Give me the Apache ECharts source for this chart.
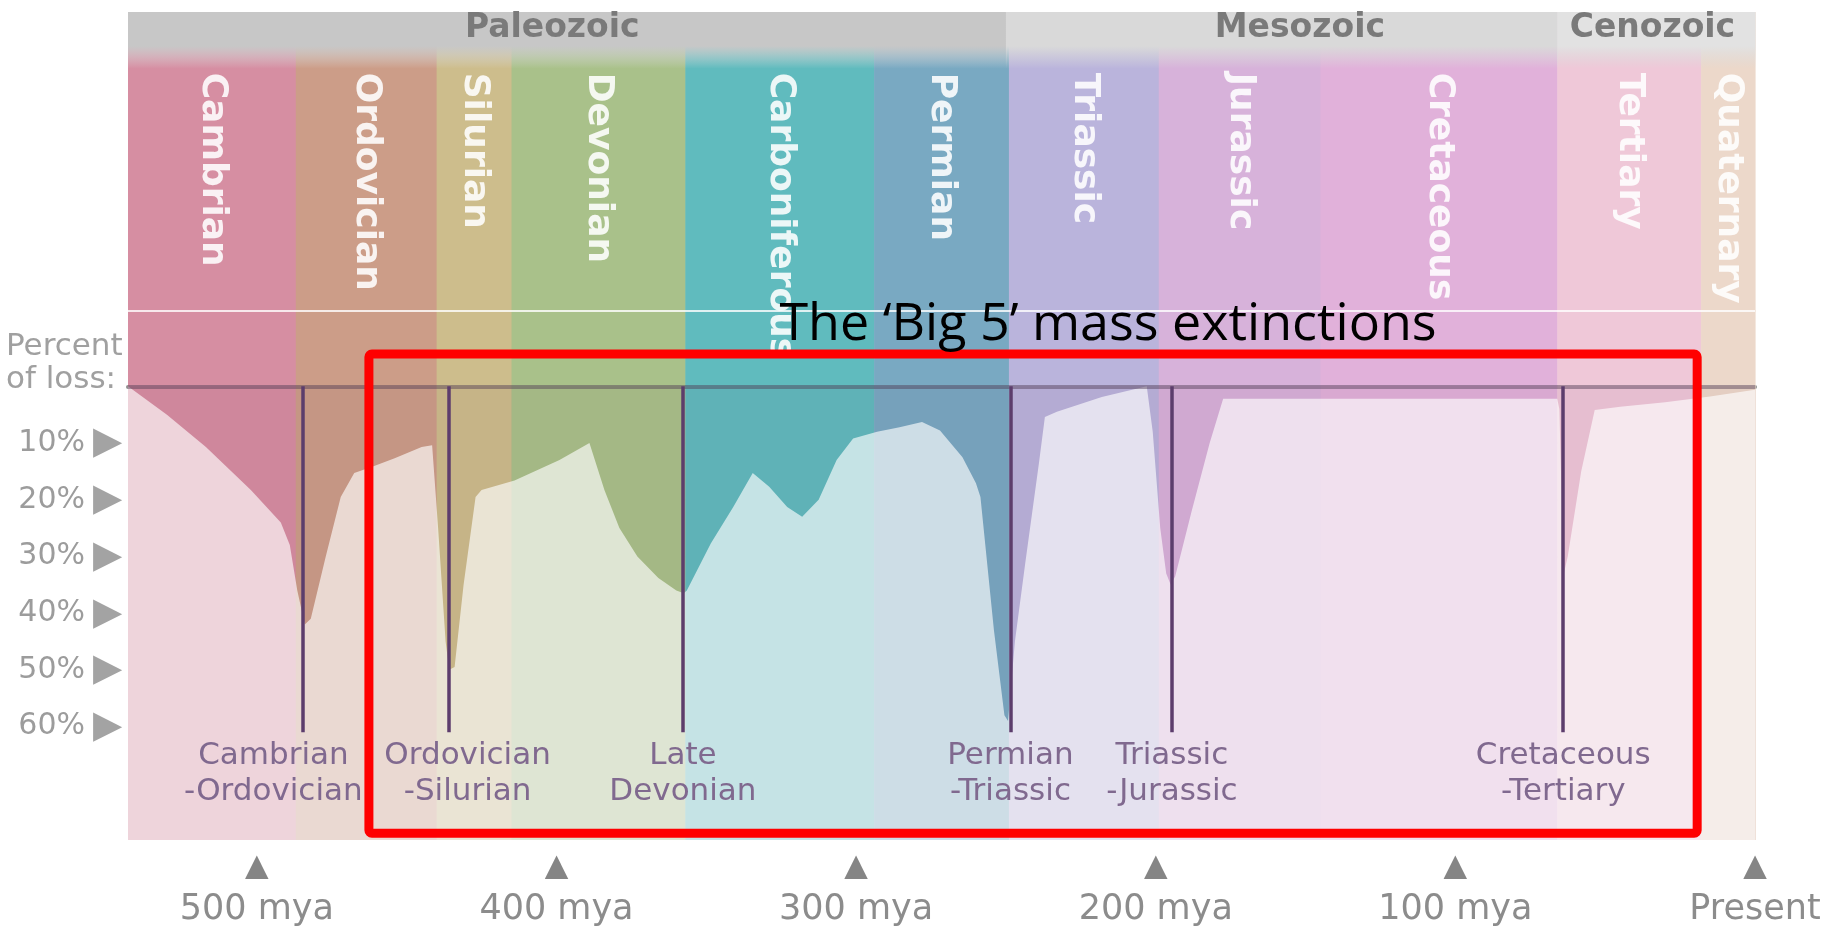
<!DOCTYPE html>
<html>
<head>
<meta charset="utf-8">
<script src="https://cdn.jsdelivr.net/npm/echarts@6/dist/echarts.min.js"></script>
<style>
  html, body { margin: 0; padding: 0; background: #fff; }
  #main { width: 1825px; height: 932px; }
</style>
</head>
<body>
<div id="main"></div>
<script>
// geological periods (million years ago)
const periods = ['Cambrian', 'Ordovician', 'Silurian', 'Devonian', 'Carboniferous', 'Permian',
  'Triassic', 'Jurassic', 'Cretaceous', 'Tertiary', 'Quaternary'];
const periodStart = [543, 487, 440, 415, 357, 294, 249, 199, 145, 66, 18];
const periodEnd = [487, 440, 415, 357, 294, 249, 199, 145, 66, 18, 0];

const eras = ['Paleozoic', 'Mesozoic', 'Cenozoic'];
const eraStart = [543, 250, 66];
const eraEnd = [250, 66, 0];

// percent of loss
const lossMya = [543, 530, 517, 502, 492, 489, 486.5, 484, 482, 477, 472, 467.5, 461.5, 454, 445, 441.5,
  439.5, 437, 435.8, 434, 431, 427, 425, 414, 399, 389, 384, 379, 373, 366, 360, 357.5,
  356.5, 348.5, 341, 334.5, 329, 323, 318, 312.5, 306.5, 301, 293, 285.5, 278, 272, 264.5, 260,
  258.5, 254, 250.5, 249.3, 247, 243.5, 239, 237, 233, 218, 203, 201, 198.5, 196.5, 195, 193.5,
  188, 182, 177.5, 66, 65.3, 64.5, 63.8, 62.5, 58, 53.5, 45, 30, 15, 0];
const lossPct = [0, 5, 10.7, 18.3, 24, 28, 36, 42, 41, 30, 19.5, 15.3, 14.2, 12.7, 10.7, 10.4,
  25, 45, 50, 49.5, 35, 19.5, 18.3, 16.6, 13, 10, 18.3, 25, 30, 33.8, 36, 36.5,
  36, 27.7, 21.3, 15.3, 17.7, 21.3, 23, 20, 13, 9.2, 8, 7.2, 6.3, 7.8, 12.5, 17.1,
  19.5, 43, 58, 59, 45, 31, 13.6, 5.4, 4.5, 1.9, 0, 8, 25, 33, 35, 33.5,
  22, 10, 2.2, 2.2, 4, 20, 33, 30, 15, 4.2, 3.6, 2.8, 1.8, 0.6];

const extinctions = ['Cambrian\n-Ordovician', 'Ordovician\n-Silurian', 'Late\nDevonian',
  'Permian\n-Triassic', 'Triassic\n-Jurassic', 'Cretaceous\n-Tertiary'];
const extinctionMya = [484.8, 436, 357.8, 248.5, 194.6, 64];
const extinctionDepth = 61;

const yTicks = [10, 20, 30, 40, 50, 60];
const gridLines = [0, 10, 20, 30, 40, 50, 60];
const xTicks = [0, 100, 200, 300, 400, 500];

// highlight box (mya, percent)
const boxFrom = [462.6, -5.7];
const boxTo = [19.3, 78.8];

const periodColors = ['#d68ea2', '#cc9d88', '#cdbd8c', '#a9c18a', '#60bbbe', '#79a9c2',
  '#bab4dc', '#d7b2da', '#e1b1da', '#efc8d8', '#ecd8ca'];
const eraColors = ['#c7c7c7', '#d9d9d9', '#e2e2e2'];
const eraLabelShift = [-15, 18, -4];
const extinctionLabelShift = [-29, 19, 0, 0, 0, 0];

const Y_MIN = -66, Y_MAX = 80;

const chart = echarts.init(document.getElementById('main'));

function stripe(api, y0, y1) {
  const p0 = api.coord([api.value(0), y0]);
  const p1 = api.coord([api.value(1), y1]);
  return { x: Math.min(p0[0], p1[0]), y: p0[1], width: Math.abs(p1[0] - p0[0]) + 0.6, height: p1[1] - p0[1] };
}

const option = {
  animation: false,
  backgroundColor: '#ffffff',
  grid: { left: 128, right: 70, top: 12, bottom: 92 },
  xAxis: {
    type: 'value', min: 0, max: 543, inverse: true,
    axisLine: { show: true, lineStyle: { color: '#8f8f8f', width: 4 } },
    axisTick: { show: false },
    splitLine: { show: false },
    axisLabel: {
      customValues: xTicks,
      margin: 8,
      formatter: function (v) {
        return '{t|▲}\n{l|' + (v === 0 ? 'Present' : v + ' mya') + '}';
      },
      rich: {
        t: { fontSize: 40, color: '#858585', lineHeight: 40, align: 'center' },
        l: { fontSize: 35, color: '#8c8c8c', fontFamily: 'DejaVu Sans', lineHeight: 44, align: 'center' }
      }
    }
  },
  yAxis: {
    type: 'value', min: Y_MIN, max: Y_MAX, inverse: true,
    axisLine: { show: false },
    axisTick: { show: false, customValues: gridLines },
    splitLine: { show: true, lineStyle: { color: 'rgba(70,55,80,0.2)', width: 2 } },
    axisLabel: {
      customValues: yTicks,
      margin: 6,
      formatter: function (v) { return '{v|' + v + '%}{t|▶}'; },
      rich: {
        v: { fontSize: 30, color: '#9c9c9c', fontFamily: 'DejaVu Sans', padding: [0, 8, 0, 0] },
        t: { fontSize: 38, color: '#a3a3a3' }
      }
    }
  },
  graphic: [
    {
      type: 'text', left: 6, top: 330,
      style: { text: 'Percent\nof loss:', font: '31px "DejaVu Sans"', fill: '#a0a0a0', lineHeight: 33 }
    },
    {
      type: 'text', x: 1108, y: 325, z: 100,
      style: { text: 'The ‘Big 5’ mass extinctions', font: '52px "Open Sans"', fill: '#000',
        align: 'center', verticalAlign: 'middle' }
    }
  ],
  series: [
    {
      // period stripes with names
      type: 'custom', silent: true, z: 1,
      encode: { x: [0, 1] },
      data: periods.map((n, i) => [periodStart[i], periodEnd[i]]),
      renderItem: function (params, api) {
        const i = params.dataIndex;
        const r = stripe(api, Y_MIN, Y_MAX);
        const shade = stripe(api, 0, Y_MAX);
        const ty = api.coord([0, -55.3])[1];
        return {
          type: 'group',
          children: [
            { type: 'rect', shape: r, style: { fill: periodColors[i] } },
            { type: 'rect', shape: shade, style: { fill: 'rgba(70,20,60,0.05)' } },
            { type: 'text', x: r.x + r.width / 2, y: ty, rotation: -Math.PI / 2,
              style: { text: periods[i], fill: 'rgba(255,255,255,0.88)', font: 'bold 36px "DejaVu Sans"',
                align: 'left', verticalAlign: 'middle' } }
          ]
        };
      }
    },
    {
      // era header band
      type: 'custom', silent: true, z: 2,
      encode: { x: [0, 1] },
      data: eras.map((n, i) => [eraStart[i], eraEnd[i]]),
      renderItem: function (params, api) {
        const i = params.dataIndex;
        const r = stripe(api, Y_MIN, -56);
        const c = eraColors[i];
        return {
          type: 'group',
          children: [
            { type: 'rect', shape: r,
              style: { fill: { type: 'linear', x: 0, y: 0, x2: 0, y2: 1,
                colorStops: [{ offset: 0, color: c }, { offset: 0.6, color: c },
                  { offset: 1, color: 'rgba(220,220,220,0)' }] } } },
            { type: 'text', x: r.x + r.width / 2 + eraLabelShift[i], y: r.y + 16,
              style: { text: eras[i], fill: '#7a7a7a', font: 'bold 33px "DejaVu Sans"',
                align: 'center', verticalAlign: 'middle' } }
          ]
        };
      }
    },
    {
      // loss curve: pale fill below it
      type: 'line', z: 3, silent: true,
      data: lossMya.map((m, i) => [m, lossPct[i]]),
      symbol: 'none',
      lineStyle: { width: 0 },
      areaStyle: { origin: 'end', color: '#ffffff', opacity: 0.64 },
      markLine: {
        silent: true, symbol: 'none',
        data: [
          [{ coord: [543, -13.4] }, { coord: [0, -13.4] }],
          [{ coord: [543, 0] }, { coord: [0, 0] }]
        ].map((d, k) => {
          d[0].lineStyle = k === 0 ? { color: 'rgba(255,255,255,0.8)', width: 2, type: 'solid' }
            : { color: 'rgba(80,60,85,0.45)', width: 4, type: 'solid' };
          d[0].label = { show: false };
          return d;
        }).concat(extinctionMya.map((m, i) => [
          { coord: [m, 0], name: extinctions[i], label: { offset: [extinctionLabelShift[i], 0] } },
          { coord: [m, extinctionDepth] }
        ])),
        lineStyle: { color: '#5c3d6c', width: 3.5, type: 'solid' },
        label: {
          show: true, position: 'end', distance: 6,
          formatter: '{b}', color: '#80698f', fontSize: 31, lineHeight: 36,
          fontFamily: 'DejaVu Sans', align: 'center'
        }
      }
    },
    {
      // red highlight box
      type: 'custom', z: 10, silent: true,
      encode: { x: [0, 2], y: [1, 3] },
      data: [[boxFrom[0], boxFrom[1], boxTo[0], boxTo[1]]],
      renderItem: function (params, api) {
        const a = api.coord([api.value(0), api.value(1)]);
        const b = api.coord([api.value(2), api.value(3)]);
        return {
          type: 'rect',
          shape: { x: Math.min(a[0], b[0]), y: Math.min(a[1], b[1]),
            width: Math.abs(b[0] - a[0]), height: Math.abs(b[1] - a[1]), r: 3 },
          style: { fill: 'none', stroke: '#ff0000', lineWidth: 9 }
        };
      }
    }
  ]
};

chart.setOption(option);
</script>
</body>
</html>
